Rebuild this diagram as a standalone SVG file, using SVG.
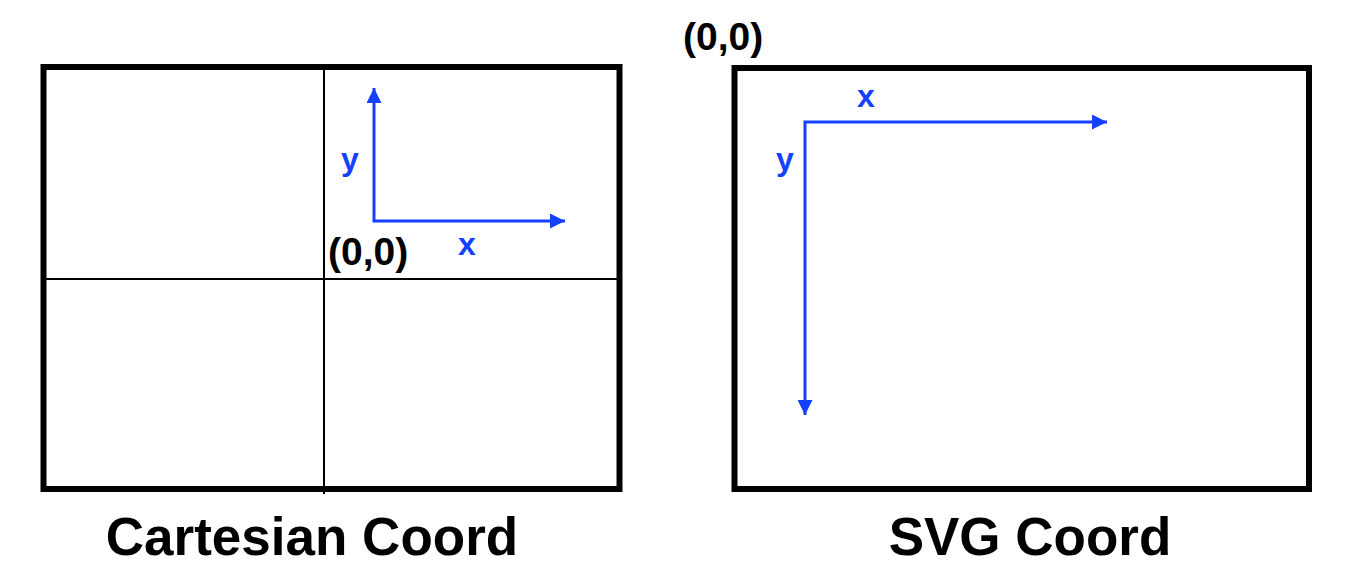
<svg xmlns="http://www.w3.org/2000/svg" width="1350" height="576" viewBox="0 0 1350 576">
<style>
.frame{fill:none;stroke:#000;stroke-width:6}
.thin{stroke:#000;stroke-width:2}
.axis{stroke:#1440ff;stroke-width:3;fill:none}
.lbl{font-family:"Liberation Sans",Arial,sans-serif;font-weight:bold}
.blue{fill:#1440ff;font-size:32px}
.org{fill:#000;font-size:39px}
.title{fill:#000;font-size:53px;text-anchor:middle}
</style>
<defs>
<marker id="ah" viewBox="0 0 10 10" refX="10" refY="5" markerWidth="5" markerHeight="5" orient="auto-start-reverse" markerUnits="strokeWidth">
<path d="M0,0 L10,5 L0,10 z" fill="#1440ff"/>
</marker>
</defs>
<rect width="1350" height="576" fill="#fff"/>
<g id="cartesian">
<rect class="frame" x="43.5" y="67" width="576" height="422"/>
<line class="thin" x1="324" y1="67" x2="324" y2="494"/>
<line class="thin" x1="43.5" y1="279" x2="619.5" y2="279"/>
<text class="lbl blue" x="341" y="170">y</text>
<text class="lbl blue" x="458" y="255">x</text>
<text class="lbl org" x="328" y="265">(0,0)</text>
<text class="lbl title" x="312" y="555">Cartesian Coord</text>
</g>
<g id="svgcoord">
<rect class="frame" x="734.5" y="68" width="574.5" height="421"/>
<text class="lbl blue" x="776" y="170">y</text>
<text class="lbl blue" x="857" y="107">x</text>
<text class="lbl org" x="683" y="50">(0,0)</text>
<text class="lbl title" x="1030" y="555">SVG Coord</text>
</g>
<g id="connectors">
<polyline class="axis" points="374,88 374,221 565,221" marker-start="url(#ah)" marker-end="url(#ah)"/>
<polyline class="axis" points="805,415 805,122 1107,122" marker-start="url(#ah)" marker-end="url(#ah)"/>
</g>
</svg>
